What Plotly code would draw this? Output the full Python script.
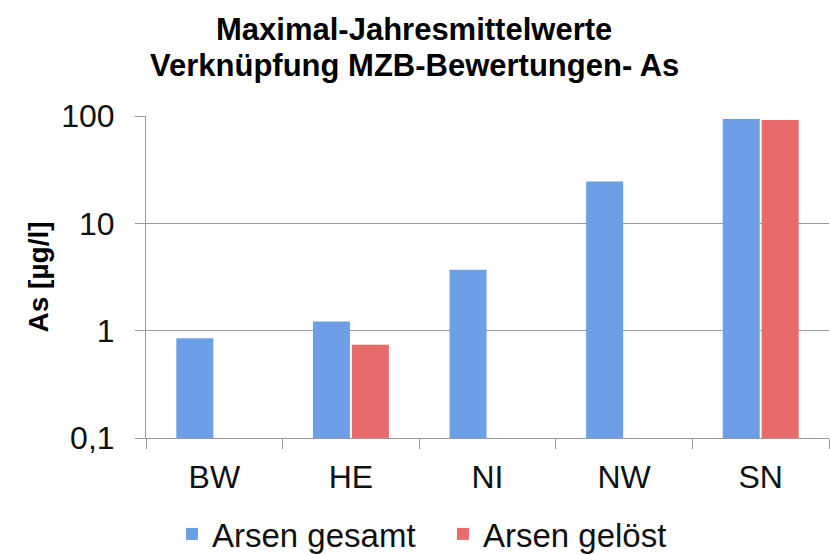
import plotly.graph_objects as go

categories = ["BW", "HE", "NI", "NW", "SN"]
arsen_gesamt = [0.85, 1.22, 3.7, 24.5, 94]
arsen_geloest = [None, 0.74, None, None, 92]
y_tickvals = [0.1, 1, 10, 100]
y_ticktext = ["0,1", "1", "10", "100"]
title_lines = ["Maximal-Jahresmittelwerte", "Verknüpfung MZB-Bewertungen- As"]

fig = go.Figure()
fig.add_trace(go.Bar(
    x=categories, y=arsen_gesamt, name="Arsen gesamt",
    marker=dict(color="#6c9fe6", line=dict(width=0)),
))
fig.add_trace(go.Bar(
    x=categories, y=arsen_geloest, name="Arsen gelöst",
    marker=dict(color="#e86a6a", line=dict(width=0)),
))

fig.update_layout(
    width=830, height=555,
    margin=dict(l=146, r=1, t=116, b=117, autoexpand=False),
    paper_bgcolor="white", plot_bgcolor="white",
    font=dict(family="Liberation Sans, Arial, sans-serif", color="#111111"),
    barmode="group", bargap=0.43, bargroupgap=0.05,
    showlegend=True,
    legend=dict(
        orientation="h", x=0.038, xanchor="left", y=-0.298, yanchor="middle",
        font=dict(size=33, color="#111111"), itemwidth=30, traceorder="normal",
        entrywidth=226, entrywidthmode="pixels",
    ),
    annotations=[
        dict(text="<b>%s</b>" % title_lines[0], xref="paper", yref="paper",
             x=0.393, y=1.268, xanchor="center", yanchor="middle",
             showarrow=False, font=dict(size=31, color="#000000")),
        dict(text="<b>%s</b>" % title_lines[1], xref="paper", yref="paper",
             x=0.393, y=1.157, xanchor="center", yanchor="middle",
             showarrow=False, font=dict(size=31, color="#000000")),
    ],
)
fig.update_yaxes(
    type="log", range=[-1, 2.0], tickvals=y_tickvals, ticktext=y_ticktext,
    showgrid=True, gridcolor="#9a9a9a", gridwidth=1,
    showline=True, linecolor="#9a9a9a", linewidth=1,
    ticks="outside", ticklen=10, tickcolor="#9a9a9a",
    tickfont=dict(size=32, color="#111111"), ticklabelstandoff=14,
    title=dict(text="<b>As [µg/l]</b>", font=dict(size=28, color="#000000"), standoff=4),
    zeroline=False, automargin=False,
)
fig.update_xaxes(
    showline=True, linecolor="#9a9a9a", linewidth=1,
    ticks="outside", ticklen=10, tickcolor="#9a9a9a", tickson="boundaries",
    tickfont=dict(size=32, color="#111111"), ticklabelstandoff=11,
    showgrid=False, automargin=False,
)

fig.write_html(
    "out.html",
    config={"displayModeBar": False},
    post_script="document.body.style.margin='0';document.body.style.overflow='hidden';",
)
